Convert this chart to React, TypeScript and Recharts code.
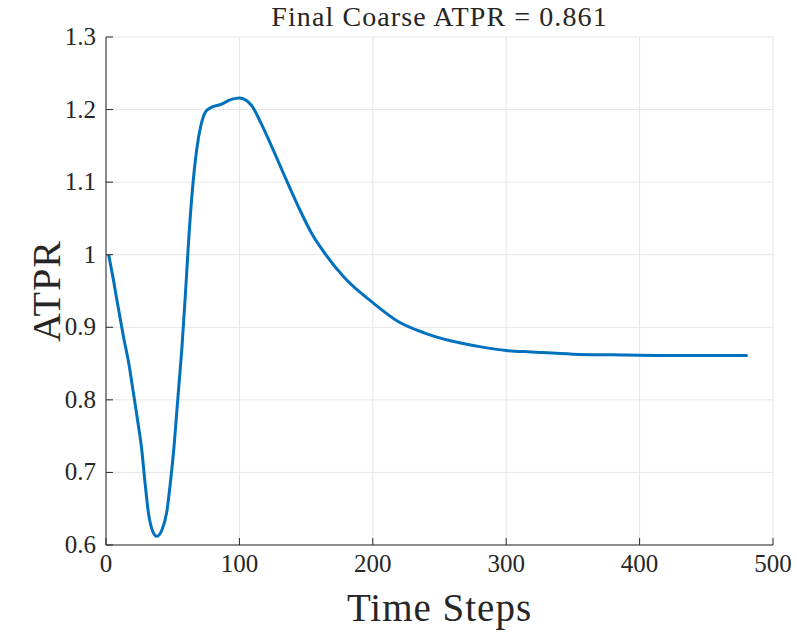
import { LineChart, Line, XAxis, YAxis, CartesianGrid } from 'recharts'

const steps = [2, 5.5, 9, 13, 17, 20.5, 24, 26.75, 29.25, 31.75, 35, 38, 42, 45.5, 48.5, 51, 53, 55, 57, 60, 62, 65, 68, 71, 75, 79, 86, 94, 100, 109, 116, 124, 134, 144, 154, 164, 179, 200, 219, 239, 259, 281, 300, 319, 350, 380, 420, 481]
const atpr = [1.0, 0.966, 0.929, 0.888, 0.851, 0.81, 0.768, 0.732, 0.686, 0.645, 0.619, 0.612, 0.621, 0.645, 0.69, 0.736, 0.782, 0.828, 0.874, 0.96, 1.021, 1.094, 1.145, 1.177, 1.198, 1.203, 1.207, 1.214, 1.216, 1.206, 1.182, 1.15, 1.108, 1.067, 1.03, 1.002, 0.968, 0.934, 0.908, 0.892, 0.881, 0.873, 0.868, 0.866, 0.863, 0.862, 0.861, 0.861]

const xTicks = [0, 100, 200, 300, 400, 500]
const yTicks = [0.6, 0.7, 0.8, 0.9, 1, 1.1, 1.2, 1.3]
const title = 'Final Coarse ATPR = 0.861'

const data = steps.map((s, i) => ({ step: s, atpr: atpr[i] }))

const font = 'Liberation Serif'
const axisColor = '#262626'

function XTick(props: any) {
  const { x, y, payload } = props
  return (
    <text x={x} y={y} dy={18} textAnchor="middle" fill={axisColor} style={{ fontFamily: font, fontSize: 25 }}>
      {payload.value}
    </text>
  )
}

function YTick(props: any) {
  const { x, y, payload } = props
  return (
    <text x={x} y={y} dy={8} textAnchor="end" fill={axisColor} style={{ fontFamily: font, fontSize: 25 }}>
      {String(Math.round(payload.value * 10) / 10)}
    </text>
  )
}

export default function App() {
  return (
    <div style={{ position: 'absolute', left: 0, top: 0, width: 797, height: 632, background: '#fff' }}>
      <div style={{ position: 'absolute', left: 106, width: 667, top: 1, textAlign: 'center', fontFamily: font, fontSize: 28, letterSpacing: 1.1, color: axisColor, lineHeight: '32px' }}>
        {title}
      </div>
      <LineChart width={797} height={632} data={data} margin={{ top: 37, right: 24, left: 0, bottom: 0 }}>
        <CartesianGrid stroke="#e5e5e5" strokeWidth={1} />
        <XAxis
          dataKey="step"
          type="number"
          domain={[0, 500]}
          ticks={xTicks}
          height={87}
          stroke={axisColor}
          tickSize={-7}
          tickMargin={16}
          tick={<XTick />}
          label={{ value: 'Time Steps', position: 'insideBottom', offset: 11, fill: axisColor, fontSize: 39, style: { fontFamily: font }, letterSpacing: 1 }}
        />
        <XAxis
          xAxisId="top"
          orientation="top"
          type="number"
          domain={[0, 500]}
          ticks={xTicks}
          height={0}
          stroke={axisColor}
          tickSize={-7}
          tickFormatter={() => ''}
        />
        <YAxis
          type="number"
          domain={[0.6, 1.3]}
          ticks={yTicks}
          width={106}
          stroke={axisColor}
          tickSize={-7}
          tickMargin={17}
          tick={<YTick />}
          label={{ value: 'ATPR', angle: -90, position: 'insideLeft', offset: 46, fill: axisColor, fontSize: 40, letterSpacing: 1, style: { textAnchor: 'middle', fontFamily: font } }}
        />
        <YAxis
          yAxisId="right"
          orientation="right"
          type="number"
          domain={[0.6, 1.3]}
          ticks={yTicks}
          width={0}
          stroke={axisColor}
          tickSize={-7}
          tickFormatter={() => ''}
        />
        <Line
          type="monotone"
          dataKey="atpr"
          stroke="#0072BD"
          strokeWidth={3}
          dot={false}
          isAnimationActive={false}
        />
      </LineChart>
    </div>
  )
}
